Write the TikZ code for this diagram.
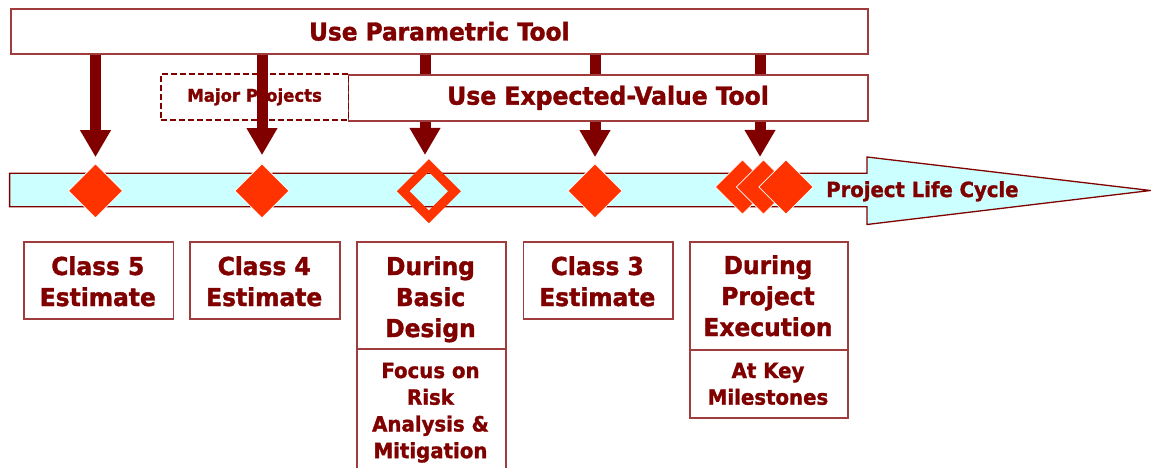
\documentclass[tikz,border=0pt]{standalone}
\usepackage{fontspec}
\setmainfont{DejaVu Sans Condensed}[BoldFeatures={FakeBold=1.5,FakeStretch=1.05}]
\usetikzlibrary{shapes.geometric,arrows.meta}
\definecolor{dred}{RGB}{128,0,0}
\definecolor{bdr}{RGB}{160,60,60}
\definecolor{barfill}{RGB}{204,255,255}
\definecolor{dia}{RGB}{255,51,0}
\newcommand\mylines[1]{\begin{tabular}[t]{@{}c@{}}#1\end{tabular}}
\begin{document}
\begin{tikzpicture}[x=1pt,y=-1pt,
  box/.style={draw=bdr,line width=1.6pt,inner sep=0pt,anchor=north west},
  bigtxt/.style={text=dred,font=\fontsize{24.7}{31}\selectfont\bfseries,inner sep=0pt,anchor=base},
  smalltxt/.style={text=dred,font=\fontsize{20.9}{26.7}\selectfont\bfseries,inner sep=0pt,anchor=base},
  fdia/.style={diamond,fill=dia,draw=white,line width=0.8pt,inner sep=0pt,minimum width=54.5pt,minimum height=54.5pt},
  blockarrow/.style={draw=dred,line width=11pt,-{Triangle[width=29pt,length=27pt]}}
]
\useasboundingbox (0,0) rectangle (1151,468);

% life cycle bar
\draw[draw=dred,line width=1.3pt,fill=barfill]
  (9.6,173.3) -- (867,173.3) -- (867,157) -- (1150.5,190.5) -- (867,224.5) -- (867,206.7) -- (9.6,206.7) -- cycle;
\node[text=dred,font=\fontsize{20.8}{25}\selectfont\bfseries,anchor=base west,inner sep=0pt] (plc) at (826,197) {Project Life Cycle};

% milestones
\node[fdia] (d1) at (95.5,190.8) {};
\node[fdia] (d2) at (262,190.8) {};
\node[diamond,draw=dia,line width=9pt,inner sep=0pt,minimum width=55pt,minimum height=55pt] (d3) at (428.8,191.2) {};
\node[fdia] (d4) at (595,190.8) {};
\node[fdia] (d5a) at (742.5,187) {};
\node[fdia] (d5b) at (763.5,187) {};
\node[fdia] (d5c) at (786,187) {};
\coordinate (a5) at (760,157);

% top tool box
\node[box,fill=white,minimum width=857pt,minimum height=45pt,text=dred,font=\fontsize{24.6}{28}\selectfont\bfseries] (param) at (10,8) {Use Parametric Tool};

% arrows
\draw[blockarrow,shorten >=6pt] (param.south -| d1) -- (d1.north);
\draw[blockarrow,shorten >=8pt] (param.south -| d2) -- (d2.north);
\draw[blockarrow] (param.south -| 425,0) -- (425,155);
\draw[blockarrow,shorten >=6pt] (param.south -| d4) -- (d4.north);
\draw[blockarrow] (param.south -| a5) -- (a5);

% second tool box and major projects box
\node[box,fill=white,minimum width=519.5pt,minimum height=46pt,text=dred,font=\fontsize{24.9}{30}\selectfont\bfseries] (ev) at (347.5,74) {Use Expected-Value Tool};
\node[box,draw=dred,line width=1.8pt,dash pattern=on 6pt off 3pt,minimum width=187.5pt,minimum height=46pt,text=dred,font=\fontsize{17.5}{22}\selectfont\bfseries] (mp) at (160,73) {Major Projects};

% lower boxes
\node[box,minimum width=149.6pt,minimum height=77pt] (c5) at (23,241) {};
\node[bigtxt] (c5t) at (97.8,275) {\mylines{Class 5\\Estimate}};

\node[box,minimum width=149.6pt,minimum height=77pt] (c4) at (189.4,241) {};
\node[bigtxt] (c4t) at (264.2,275) {\mylines{Class 4\\Estimate}};

\node[box,minimum width=149pt,minimum height=107pt] (bd) at (356,241) {};
\node[bigtxt] (bdt) at (430.5,275) {\mylines{During\\Basic\\Design}};
\node[box,minimum width=149pt,minimum height=135pt] (bdf) at (356,348) {};
\node[smalltxt] (bdft) at (430.5,378) {\mylines{Focus on\\Risk\\Analysis \&\\Mitigation}};

\node[box,minimum width=149.3pt,minimum height=77pt] (c3) at (522.7,241) {};
\node[bigtxt] (c3t) at (597.3,275) {\mylines{Class 3\\Estimate}};

\node[box,minimum width=158pt,minimum height=108pt] (pe) at (689,241) {};
\node[bigtxt] (pet) at (768,274) {\mylines{During\\Project\\Execution}};
\node[box,minimum width=158pt,minimum height=68pt] (pek) at (689,349) {};
\node[smalltxt] (pekt) at (768,378) {\mylines{At Key\\Milestones}};
\end{tikzpicture}
\end{document}
